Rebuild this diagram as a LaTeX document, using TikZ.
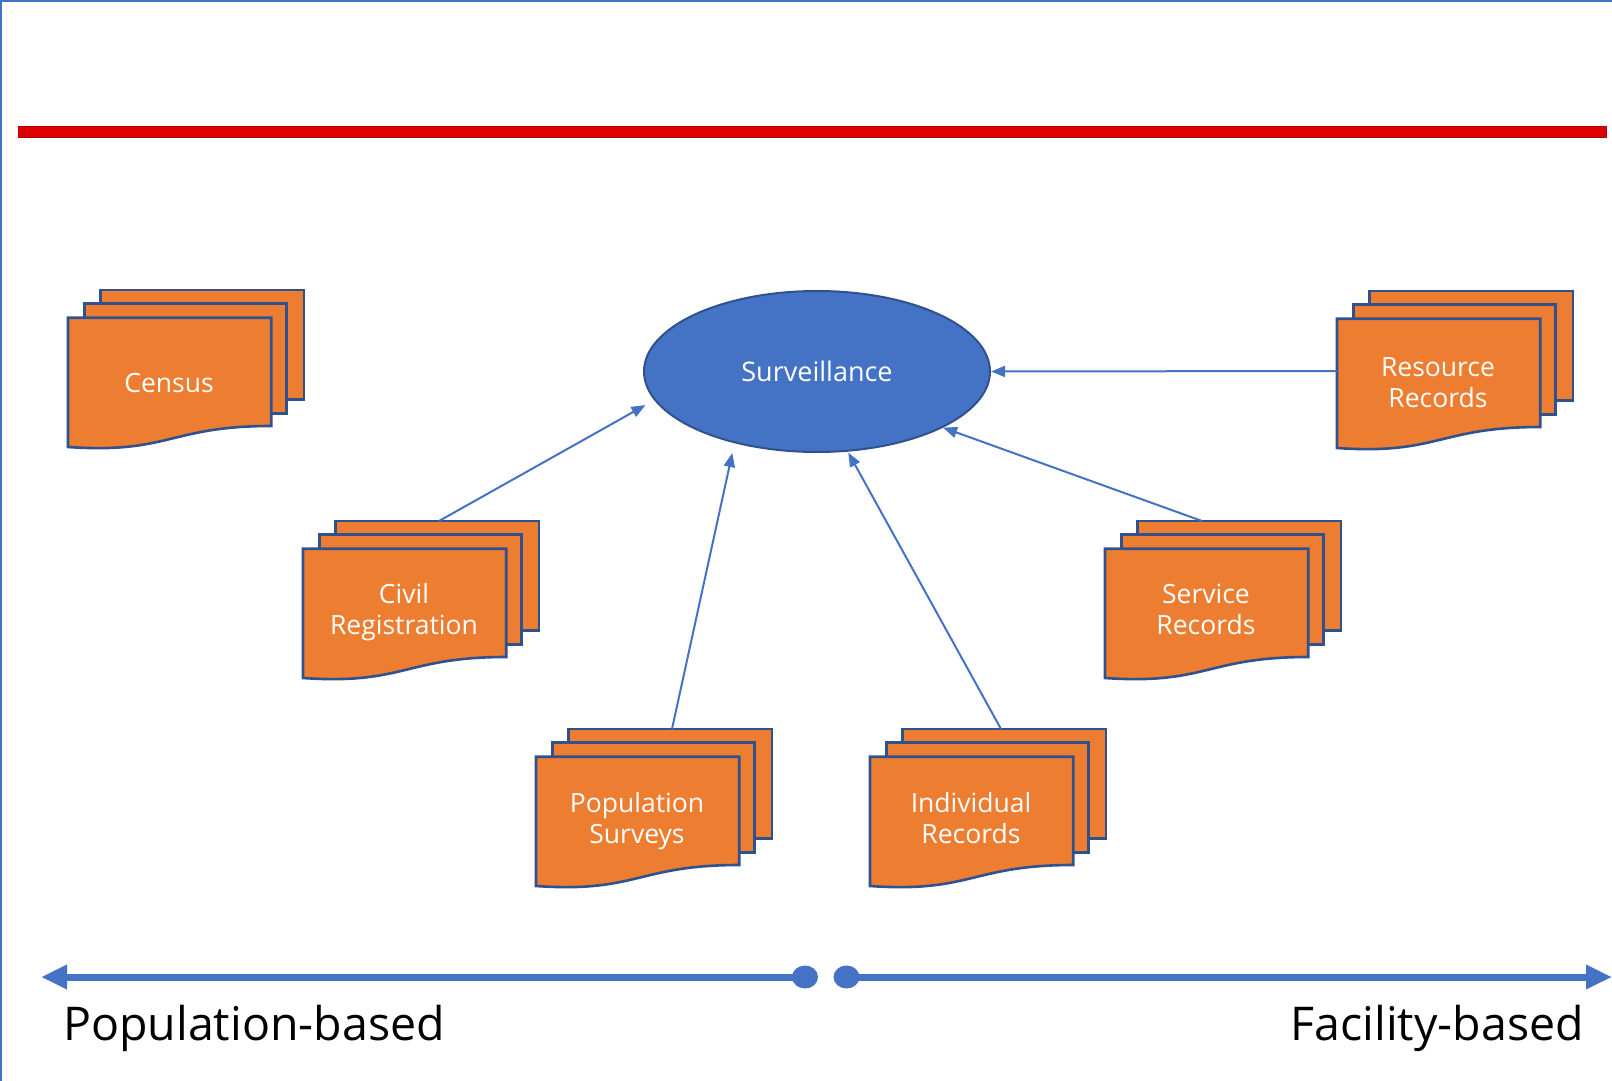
\documentclass[tikz,border=0pt]{standalone}
\usepackage{fontspec}
\setmainfont{Open Sans}
\usetikzlibrary{shapes.geometric,arrows.meta}
\definecolor{docfill}{HTML}{ED7D31}
\definecolor{docline}{HTML}{2F528F}
\definecolor{accent}{HTML}{4472C4}
\definecolor{redbar}{HTML}{DE0000}
\definecolor{rededge}{HTML}{B80000}
\tikzset{
  docshape/.style={fill=docfill, draw=docline, line width=2.6pt, line join=miter},
  doctext/.style={text=white, font=\fontsize{26.5}{31}\selectfont, align=center, inner sep=0pt},
  feed/.style={draw=accent, line width=2pt, -{Triangle[length=14pt,width=11pt]}},
  axisline/.style={draw=accent, line width=7pt, -{Triangle[length=26pt,width=23pt]}},
  axisdot/.style={ellipse, fill=accent, minimum width=26pt, minimum height=23pt, inner sep=0pt},
  bigtext/.style={font=\fontsize{46.5}{56}\selectfont, inner sep=0pt, text=black},
}
\newcommand\multidoc[5]{%
  \node[minimum width=236pt, minimum height=163pt, inner sep=0pt, outer sep=0pt, anchor=north west] (#1) at (#2,#3) {};
  \begin{scope}[shift={(#2,#3)}]
    \draw[docshape] (32.5,0) rectangle (236,109.2);
    \draw[docshape] (16.7,13.7) rectangle (218.5,123.7);
    \draw[docshape] (0,27.7) -- (203.2,27.7) -- (203.2,136)
      .. controls (101.6,136) and (101.6,164) .. (0,157) -- cycle;
    \node[doctext] (#1-text) at (101,#5) {#4};
  \end{scope}
}
\begin{document}
\begin{tikzpicture}[x=1pt,y=-1pt]
\useasboundingbox (0,0) rectangle (1612,1081);
% frame lines
\draw[accent, line width=2pt] (1,1081) -- (1,1) -- (1612,1);
% red bar
\filldraw[fill=redbar, draw=rededge, line width=1pt] (18,126) rectangle (1606,137);

% documents
\multidoc{census}{68}{290}{Census\strut}{96.5}
\multidoc{civil}{303}{521}{Civil\strut\\Registration\strut}{92}
\multidoc{popsurv}{536}{729}{Population\strut\\Surveys\strut}{93}
\multidoc{indiv}{870}{729}{Individual\strut\\Records\strut}{93}
\multidoc{service}{1105}{521}{Service\strut\\Records\strut}{92}
\multidoc{resource}{1337}{291}{Resource\strut\\Records\strut}{95}

% surveillance
\node[ellipse, fill=accent, draw=docline, line width=2pt, minimum width=346pt, minimum height=161pt,
      inner sep=0pt, text=white, font=\fontsize{27}{32}\selectfont] (surv) at (817,371.5) {Surveillance};

% connectors
\draw[feed, shorten >=10pt] ([xshift=18pt]civil.north) -- (surv.190.4);
\draw[feed, shorten >=10pt] ([xshift=18pt]popsurv.north) -- (surv.221);
\draw[feed, shorten >=1pt] ([xshift=13pt]indiv.north) -- (surv.291);
\draw[feed] ([xshift=-21pt]service.north) -- (surv.336);
\draw[feed] ([yshift=1.5pt]resource.west) -- (surv.east);

% bottom axis
\node[axisdot] (dotL) at (805,977) {};
\node[axisdot] (dotR) at (846.5,977) {};
\coordinate (endL) at (41,977);
\coordinate (endR) at (1612,977);
\draw[axisline] (dotL.center) -- (endL);
\draw[axisline] (dotR.center) -- (endR);

\node[bigtext, anchor=base west] (popbased) at (63,1040) {Population-based};
\node[bigtext, anchor=base east] (facbased) at (1584,1040) {Facility-based};
\end{tikzpicture}
\end{document}
